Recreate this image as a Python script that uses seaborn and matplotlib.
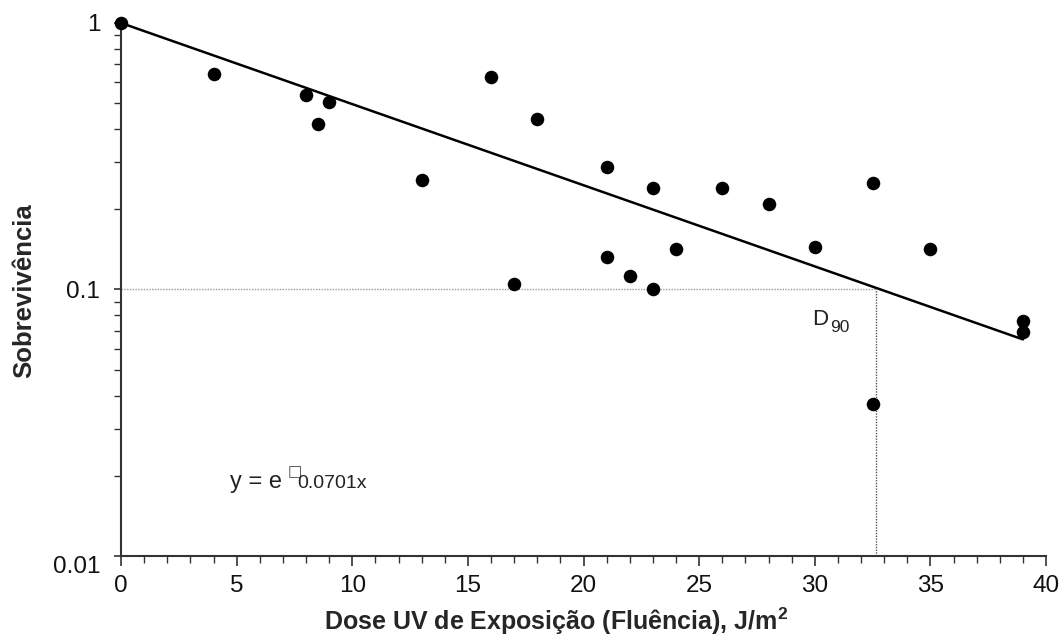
import numpy as np
import pandas as pd
import matplotlib
matplotlib.use("Agg")
import matplotlib.pyplot as plt
import seaborn as sns
from matplotlib.ticker import MultipleLocator, LogLocator, NullFormatter, FixedFormatter, FixedLocator

# Data
dose = [0, 4, 8, 8.5, 9, 13, 16, 17, 18, 21, 21, 22, 23, 23, 24, 26, 28, 30, 32.5, 32.5, 35, 39, 39]
survival = [1.0, 0.644, 0.537, 0.418, 0.505, 0.258, 0.629, 0.105, 0.436, 0.288, 0.132, 0.112,
            0.240, 0.1007, 0.1415, 0.240, 0.209, 0.144, 0.252, 0.0372, 0.1415, 0.076, 0.0695]
k = 0.0701          # fitted decay constant, y = exp(-k x)
fit_x = [0, 39]
d90_level = 0.1
d90_dose = 32.65    # where the dotted guide lines meet

sns.set_theme(style="white")
plt.rcParams['font.family'] = ['Liberation Sans', 'DejaVu Sans']
plt.rcParams['mathtext.fontset'] = 'custom'
plt.rcParams['mathtext.rm'] = 'Liberation Sans'
plt.rcParams['mathtext.bf'] = 'Liberation Sans:bold'

fig = plt.figure(figsize=(10.62, 6.35), dpi=100)
ax = fig.add_axes([0.114, 0.1244, 0.871, 0.8394])

df = pd.DataFrame({'dose': dose, 'survival': survival})
fit = pd.DataFrame({'dose': fit_x, 'survival': np.exp(-k * np.array(fit_x))})

# guide lines at D90
ax.plot([0, d90_dose], [d90_level, d90_level], color='#999999', lw=1, ls=(0, (1, 1)), zorder=1)
ax.plot([d90_dose, d90_dose], [0.01, d90_level], color='#555555', lw=1, ls=(0, (1, 1)), zorder=1)

sns.lineplot(data=fit, x='dose', y='survival', ax=ax, color='black', lw=1.8, zorder=2)
sns.scatterplot(data=df, x='dose', y='survival', ax=ax, color='black', s=95,
                edgecolor='black', linewidth=0, zorder=3, clip_on=False)

ax.set_yscale('log')
ax.set_xlim(0, 40)
ax.set_ylim(0.01, 1)

ax.xaxis.set_major_locator(MultipleLocator(5))
ax.xaxis.set_minor_locator(MultipleLocator(1))
ax.yaxis.set_major_locator(FixedLocator([0.01, 0.1, 1]))
ax.yaxis.set_major_formatter(FixedFormatter(['0.01', '0.1', '1']))
ax.yaxis.set_minor_locator(LogLocator(base=10, subs=np.arange(2, 10)))
ax.yaxis.set_minor_formatter(NullFormatter())

ax.tick_params(axis='x', which='major', direction='out', length=7, width=1.2, color='#333333',
               labelsize=17.5, pad=7, bottom=True, labelcolor='#111111')
ax.tick_params(axis='x', which='minor', direction='out', length=5, width=1, color='#333333', bottom=True)
ax.tick_params(axis='y', which='major', direction='out', length=5, width=1.2, color='#333333',
               labelsize=17.5, pad=10, left=True, labelcolor='#111111')
ax.tick_params(axis='y', which='minor', direction='out', length=5, width=1, color='#333333', left=True)

# the lowest y label sits below its tick in the reference
ax.get_yticklabels()[0].set_va('top')

for s in ['top', 'right']:
    ax.spines[s].set_visible(False)
for s in ['left', 'bottom']:
    ax.spines[s].set_color('#333333')
    ax.spines[s].set_linewidth(1.5)

ax.set_xlabel('Dose UV de Exposição (Fluência), J/m$^\\mathbf{2}$', fontsize=18, fontweight='bold')
ax.xaxis.label.set_va('baseline')
ax.xaxis.set_label_coords(0.470, -(630 - 556) / 533)

ax.set_ylabel('Sobrevivência', fontsize=18.5, fontweight='bold')
ax.yaxis.label.set_va('center')
ax.yaxis.set_label_coords(-(121 - 24) / 925, 0.497)

ax.text(29.9, 0.0736, 'D', fontsize=16, va='baseline', ha='left', color='#222222')
ax.text(30.66, 0.0693, '90', fontsize=12.5, va='baseline', ha='left', color='#222222')

ax.text(4.71, 0.0180, 'y = e', fontsize=17, va='baseline', ha='left', color='#222222')
ax.text(7.2, 0.0200, '\u25a1', fontsize=11, va='baseline', ha='left', color='#444444',
        family=['DejaVu Sans'])
ax.text(7.61, 0.0180, '0.0701x', fontsize=14, va='baseline', ha='left', color='#222222')

fig.savefig('out.png', dpi=100)
